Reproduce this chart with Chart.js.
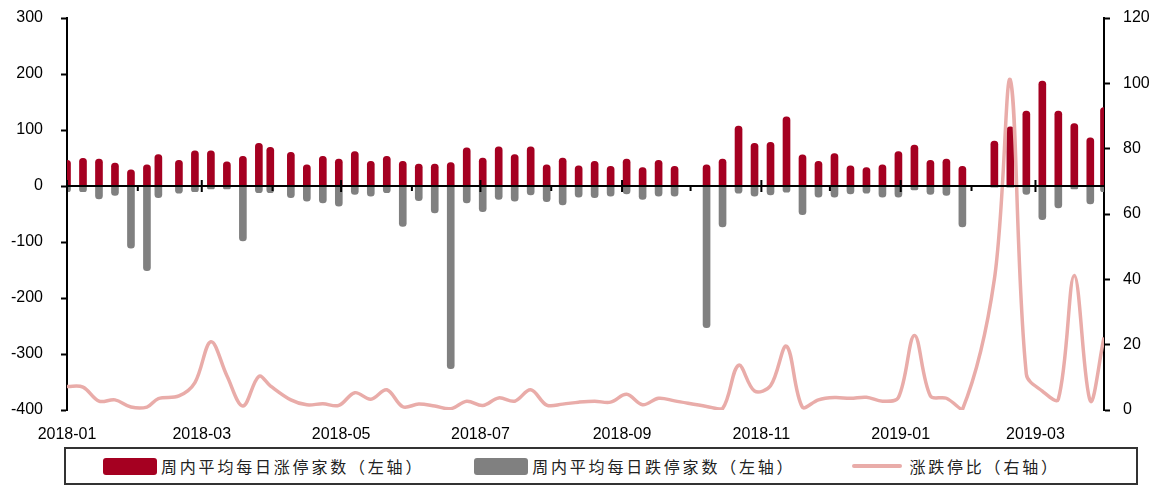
<!DOCTYPE html>
<html lang="zh-CN">
<head>
<meta charset="UTF-8">
<title>涨跌停家数</title>
<script src="https://cdn.jsdelivr.net/npm/chart.js"></script>
<style>
  body { margin: 0; background: #fff; }
  .wrap { position: relative; width: 1165px; height: 485px; overflow: hidden; }
  .chart-box { position: absolute; left: 0; top: 0; width: 1165px; height: 446px; }
  .legend { position: absolute; left: 64px; top: 447px; width: 1033px; height: 34px; border: 2px solid #333;
            display: flex; align-items: center; padding-left: 37px; box-sizing: content-box;
            font-family: "Noto Sans CJK SC", sans-serif; font-size: 16px; letter-spacing: 2.8px; color: #222; }
  .legend .item { display: flex; align-items: center; white-space: nowrap; }
  .legend .item:nth-child(1) { margin-right: 50px; }
  .legend .item:nth-child(2) { margin-right: 57px; }
  .legend .swatch { width: 54px; height: 17px; border-radius: 3px; margin-right: 4px; }
  .legend .swatch.line { width: 50px; height: 4px; border-radius: 2px; margin-right: 7px; }
</style>
</head>
<body>
<div class="wrap">
  <div class="chart-box"><canvas id="chart"></canvas></div>
  <div class="legend" id="legend"></div>
</div>
<script>
// 周末日期（节假日周缩短）
const dates = [
  '2018-01-05','2018-01-12','2018-01-19','2018-01-26',
  '2018-02-02','2018-02-09','2018-02-14','2018-02-23',
  '2018-03-02','2018-03-09','2018-03-16','2018-03-23','2018-03-30',
  '2018-04-04','2018-04-13','2018-04-20','2018-04-27',
  '2018-05-04','2018-05-11','2018-05-18','2018-05-25',
  '2018-06-01','2018-06-08','2018-06-15','2018-06-22','2018-06-29',
  '2018-07-06','2018-07-13','2018-07-20','2018-07-27',
  '2018-08-03','2018-08-10','2018-08-17','2018-08-24','2018-08-31',
  '2018-09-07','2018-09-14','2018-09-21','2018-09-28',
  '2018-10-12','2018-10-19','2018-10-26',
  '2018-11-02','2018-11-09','2018-11-16','2018-11-23','2018-11-30',
  '2018-12-07','2018-12-14','2018-12-21','2018-12-28',
  '2019-01-04','2019-01-11','2019-01-18','2019-01-25',
  '2019-02-01','2019-02-15','2019-02-22',
  '2019-03-01','2019-03-08','2019-03-15','2019-03-22','2019-03-29',
  '2019-04-04'
];

// 周内平均每日涨停家数（左轴）
const upCounts = [
  46, 49.5, 48, 41,
  29, 38, 56, 46,
  63, 63, 43, 53, 76,
  69, 60, 38, 53,
  48, 61.5, 44, 53,
  44, 39, 39, 42, 68,
  50, 70, 56, 70,
  38, 50, 36, 44, 35,
  48, 33, 46, 35,
  38, 48, 107,
  76, 78, 123.6, 55.5, 44,
  58, 36, 33, 38,
  61.5, 73, 46, 48,
  35, 80, 105.7,
  134, 187.5, 134, 111.6, 86,
  140
];

// 周内平均每日跌停家数（左轴）
const downCounts = [
  -10, -10, -23, -17,
  -111, -151, -21, -13,
  -10, -5, -5, -98, -12,
  -12, -21, -27, -30,
  -36, -15, -18, -12,
  -72, -26, -48, -326, -30,
  -46, -24, -27, -16,
  -28, -34, -20, -21, -18,
  -14, -24, -18, -18,
  -253, -73, -13,
  -18, -16, -11, -51, -20,
  -20, -14, -13, -20,
  -20, -7, -15, -17,
  -73, -2, -2,
  -15, -60, -39, -5, -32,
  -10
];

// 涨跌停比（右轴）
const ratio = [
  7.2, 7.0, 2.7, 3.1,
  0.9, 0.9, 3.5, 4.3,
  8.4, 20.9, 10.5, 1.2, 10.3,
  7.4, 3.1, 1.6, 1.9,
  1.4, 5.3, 3.3, 6.2,
  1.0, 1.8, 1.2, 0.4, 2.7,
  1.4, 3.7, 2.7, 6.2,
  1.5, 1.8, 2.4, 2.7, 2.4,
  4.8, 1.6, 3.6, 2.8,
  1.1, 0.4, 13.7,
  5.8, 7.4, 19.5, 0.8, 3.1,
  3.8, 3.6, 3.9, 2.7,
  3.8, 22.8, 4.3, 3.6,
  0.1, 40, 101,
  11, 5.8, 3.3, 41.2, 2.8,
  22.2
];

// 横轴刻度
const majorTickDates = ['2018-01-05','2018-03-05','2018-05-05','2018-07-05','2018-09-05','2018-11-05','2019-01-05','2019-03-05'];
const xTickLabels = ['2018-01','2018-03','2018-05','2018-07','2018-09','2018-11','2019-01','2019-03'];
const minorTickDates = ['2018-02-05','2018-04-05','2018-06-05','2018-08-05','2018-10-05','2018-12-05','2019-02-05'];

const seriesNames = ['周内平均每日涨停家数（左轴）', '周内平均每日跌停家数（左轴）', '涨跌停比（右轴）'];

function toDay(s) { return Date.parse(s + 'T00:00:00Z') / 86400000; }
function points(vals) { return dates.map((d, i) => ({ x: toDay(d), y: vals[i] })); }

const tickFont = { family: "'Liberation Sans', Arial, sans-serif", size: 16 };

// 零轴线和横轴刻度线
const zeroAxis = {
  id: 'zeroAxis',
  afterDatasetsDraw(chart) {
    const { ctx, chartArea, scales } = chart;
    const y0 = scales.y.getPixelForValue(0);
    ctx.save();
    ctx.strokeStyle = '#000';
    ctx.lineWidth = 2;
    ctx.beginPath();
    ctx.moveTo(chartArea.left, y0);
    ctx.lineTo(chartArea.right, y0);
    majorTickDates.forEach(d => {
      const px = scales.x.getPixelForValue(toDay(d));
      ctx.moveTo(px, y0 - 6); ctx.lineTo(px, y0 + 6);
    });
    minorTickDates.forEach(d => {
      const px = scales.x.getPixelForValue(toDay(d));
      ctx.moveTo(px, y0); ctx.lineTo(px, y0 + 5);
    });
    ctx.stroke();
    ctx.restore();
  }
};

// 固定纵轴宽度，去掉刻度间距带来的上下留白
function fixAxis(width) {
  return s => { s.width = width; s.paddingTop = 0; s.paddingBottom = 0; };
}

const chart = new Chart(document.getElementById('chart'), {
  data: {
    datasets: [
      {
        type: 'bar', label: seriesNames[0], data: points(upCounts),
        backgroundColor: '#A50021', barThickness: 7, borderRadius: 3.5,
        grouped: false, yAxisID: 'y', order: 2
      },
      {
        type: 'bar', label: seriesNames[1], data: points(downCounts),
        backgroundColor: '#808080', barThickness: 7, borderRadius: 3.5,
        grouped: false, yAxisID: 'y', order: 1
      },
      {
        type: 'line', label: seriesNames[2], data: points(ratio),
        borderColor: '#E9ACA9', backgroundColor: '#E9ACA9', borderWidth: 3.5,
        pointRadius: 0, tension: 0.35, yAxisID: 'y1', order: 0
      }
    ]
  },
  options: {
    responsive: true,
    maintainAspectRatio: false,
    animation: false,
    devicePixelRatio: 1,
    layout: { padding: { top: 18, left: 0, right: 0, bottom: 0 } },
    plugins: { legend: { display: false }, tooltip: { enabled: false } },
    scales: {
      x: {
        type: 'linear',
        offset: false,
        min: toDay(dates[0]),
        max: toDay(dates[dates.length - 1]),
        afterBuildTicks(s) { s.ticks = majorTickDates.map(d => ({ value: toDay(d) })); },
        ticks: {
          autoSkip: false, maxRotation: 0, padding: 15, color: '#000', font: tickFont,
          callback: (v, i) => xTickLabels[i]
        },
        grid: { display: false, drawTicks: false },
        border: { display: false },
        afterFit(s) { s.height = 36; }
      },
      y: {
        position: 'left', min: -400, max: 300,
        ticks: { stepSize: 100, color: '#000', font: tickFont, padding: 18 },
        grid: { drawOnChartArea: false, drawTicks: true, tickLength: 6, tickColor: '#000', tickWidth: 2 },
        border: { display: true, color: '#000', width: 2 },
        afterFit: fixAxis(67)
      },
      y1: {
        position: 'right', min: 0, max: 120,
        ticks: { stepSize: 20, color: '#000', font: tickFont, padding: 13, crossAlign: 'near' },
        grid: { drawOnChartArea: false, drawTicks: true, tickLength: 6, tickColor: '#000', tickWidth: 2 },
        border: { display: true, color: '#000', width: 2 },
        afterFit: fixAxis(61)
      }
    }
  },
  plugins: [zeroAxis]
});

// HTML 图例
const legendEl = document.getElementById('legend');
chart.data.datasets.forEach(ds => {
  const item = document.createElement('div');
  item.className = 'item';
  const sw = document.createElement('span');
  sw.className = 'swatch' + (ds.type === 'line' ? ' line' : '');
  sw.style.background = ds.type === 'line' ? ds.borderColor : ds.backgroundColor;
  const txt = document.createElement('span');
  txt.textContent = ds.label;
  item.appendChild(sw);
  item.appendChild(txt);
  legendEl.appendChild(item);
});
</script>
</body>
</html>
